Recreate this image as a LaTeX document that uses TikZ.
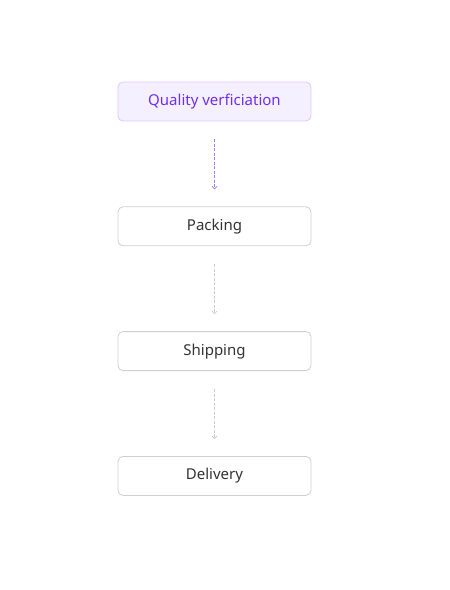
\documentclass[tikz,border=0pt]{standalone}
\usepackage{fontspec}
\setmainfont{Noto Sans}
\usepackage{tikz}
\usetikzlibrary{arrows.meta,calc}
\usetikzlibrary{positioning,shapes}
\definecolor{qvfill}{HTML}{F5F0FF}
\definecolor{qvdraw}{HTML}{D9C9FB}
\definecolor{qvtext}{HTML}{7030E8}
\definecolor{qvarrow}{HTML}{A07CF8}
\definecolor{stepdraw}{HTML}{CFCFCF}
\definecolor{steptext}{HTML}{333333}
\definecolor{steparrow}{HTML}{CCCCCC}
\tikzstyle{stage}=[rectangle, draw=stepdraw, line width=0.8pt, fill=white,
		text=steptext, minimum width=193pt, minimum height=39pt,
		rounded corners=5pt, font=\fontsize{15pt}{18pt}\selectfont]
\tikzstyle{active}=[stage, draw=qvdraw, fill=qvfill, text=qvtext]
\tikzstyle{flow}=[dashed, dash pattern=on 3pt off 1.5pt, line width=0.8pt,
		draw=steparrow, -{Straight Barb[length=2.5pt,width=5pt]},
		shorten <=18pt, shorten >=17pt]

\begin{document}
\begin{tikzpicture}[node distance=85pt]

    \useasboundingbox (0,0) rectangle (450pt,-590pt);

    \node (Quality) [active] at (214.5pt,-101.5pt) {Quality verficiation};
    \node (Packing) [stage, below=of Quality] {Packing};
    \node (Shipping) [stage, below=of Packing] {Shipping};
    \node (Delivery) [stage, below=of Shipping] {Delivery};

    \draw [flow, draw=qvarrow] (Quality) -- (Packing);
    \draw [flow] (Packing) -- (Shipping);
    \draw [flow] (Shipping) -- (Delivery);

\end{tikzpicture}
\end{document}
